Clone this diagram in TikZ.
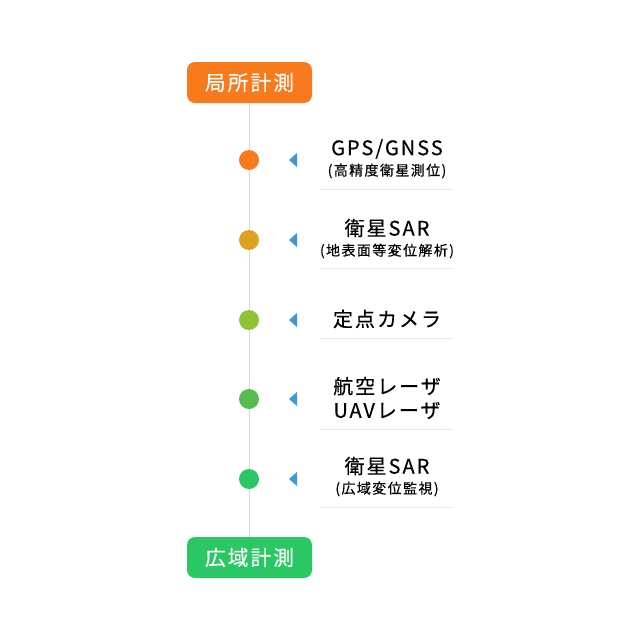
\documentclass[tikz,border=0pt]{standalone}
\usepackage{fontspec}
\setmainfont{Noto Sans CJK JP}
\newfontfamily\spaced[LetterSpace=10, FakeBold=0.4]{Noto Sans CJK JP}
\usetikzlibrary{arrows.meta, positioning}
\definecolor{topcol}{HTML}{F77A1C}
\definecolor{botcol}{HTML}{2BC764}
\definecolor{dotA}{HTML}{F77A1C}
\definecolor{dotB}{HTML}{DDA21E}
\definecolor{dotC}{HTML}{8DC532}
\definecolor{dotD}{HTML}{55BD4F}
\definecolor{dotE}{HTML}{2BC764}
\definecolor{tri}{HTML}{3C9AD6}
\definecolor{rule}{HTML}{E6E8EC}
\definecolor{axis}{HTML}{D4D6DA}

\begin{document}
\begin{tikzpicture}[
                x=0.75pt, y=-0.75pt,
                endbox/.style={rounded corners=6pt, minimum width=93.75pt, minimum height=30.75pt,
                    text=white, font=\spaced\fontsize{15.5}{18}\selectfont},
                dot/.style={circle, minimum size=15pt, inner sep=0pt},
                title/.style={font=\spaced\fontsize{15}{18}\selectfont, align=center, inner sep=0pt},
                sub/.style={font=\spaced\fontsize{10.5}{12}\selectfont, inner sep=0pt},
                pointer/.style={fill=tri, draw=none}
            ]
            \useasboundingbox (0,0) rectangle (640,640);

            % end boxes
            \node[endbox, fill=topcol] (local) at (249.5,82.5) {局所計測};
            \node[endbox, fill=botcol] (wide) at (249.5,557.5) {広域計測};
            \draw[axis, line width=0.75pt] (local) -- (wide);

            % dots
            \node[dot, fill=dotA] (d1) at (249,160) {};
            \node[dot, fill=dotB] (d2) at (249,240) {};
            \node[dot, fill=dotC] (d3) at (249,320) {};
            \node[dot, fill=dotD] (d4) at (249,399) {};
            \node[dot, fill=dotE] (d5) at (249,479) {};

            % pointers
            \foreach \y in {160,240,320,399,479}
                \fill[pointer] (289,\y) -- (297,\y-7) -- (297,\y+7) -- cycle;

            % labels
            \node[title] (t1) at (387,149) {GPS/GNSS};
            \node[sub] (s1) at (387,171) {(高精度衛星測位)};
            \node[title] (t2) at (387,228) {衛星SAR};
            \node[sub] (s2) at (387,251) {(地表面等変位解析)};
            \node[title] (t3) at (387,319) {定点カメラ};
            \node[title] (t4) at (387,398) {航空レーザ\\UAVレーザ};
            \node[title] (t5) at (387,466) {衛星SAR};
            \node[sub] (s5) at (387,489) {(広域変位監視)};

            % separators
            \foreach \y in {189,268,338,429,507}
                \draw[rule, line width=0.75pt] (320,\y) -- (453,\y);

        \end{tikzpicture}
\end{document}
